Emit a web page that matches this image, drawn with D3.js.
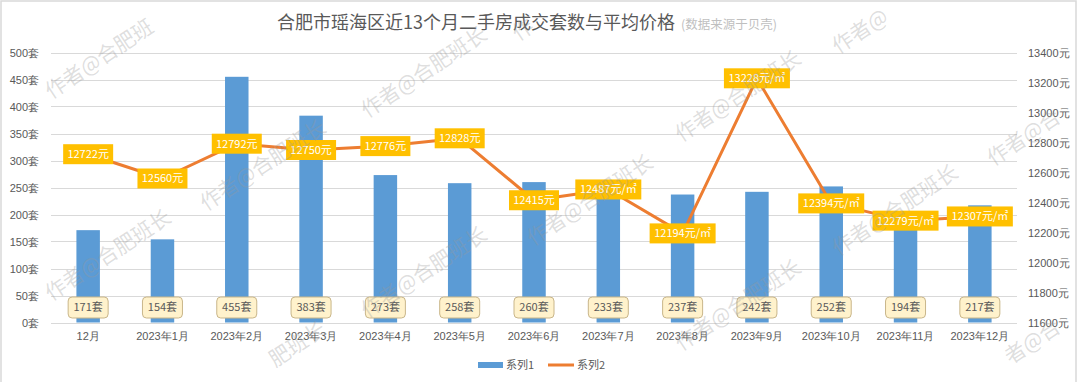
<!DOCTYPE html>
<html><head><meta charset="utf-8">
<script src="https://cdn.jsdelivr.net/npm/d3@7"></script>
<style>
html,body{margin:0;padding:0;background:#fff;}
svg{display:block;font-family:"Noto Sans CJK SC","Noto Sans",sans-serif;}
</style></head>
<body>
<svg id="c" width="1080" height="382"></svg>
<script>
const categories = ["12月","2023年1月","2023年2月","2023年3月","2023年4月","2023年5月","2023年6月","2023年7月","2023年8月","2023年9月","2023年10月","2023年11月","2023年12月"];
const series1 = [171,154,455,383,273,258,260,233,237,242,252,194,217];
const series2 = [12722,12560,12792,12750,12776,12828,12415,12487,12194,13228,12394,12279,12307];
const series2Units = ["元","元","元","元","元","元","元","元/㎡","元/㎡","元/㎡","元/㎡","元/㎡","元/㎡"];
const leftTicks = [0,50,100,150,200,250,300,350,400,450,500];
const rightTicks = [11600,11800,12000,12200,12400,12600,12800,13000,13200,13400];
const seriesNames = ["系列1","系列2"];
const titleText = "合肥市瑶海区近13个月二手房成交套数与平均价格";
const subtitleText = "(数据来源于贝壳)";
const watermarkText = "作者@合肥班长";

const svg = d3.select("#c");
const W = 1080, H = 382;
const plot = {left:51, right:1017, top:52.5, bottom:322.5};

// frame
svg.append("rect").attr("x",1).attr("y",1).attr("width",1075).attr("height",392)
  .attr("fill","#fff").attr("stroke","#d9d9d9").attr("stroke-width",1.5);

const x = d3.scaleBand().domain(categories).range([plot.left, plot.right]).paddingInner(0.684).paddingOuter(0.342);
const yL = d3.scaleLinear().domain([0,500]).range([plot.bottom, plot.top]);
const yR = d3.scaleLinear().domain([11600,13400]).range([plot.bottom, plot.top]);
const cx = d => x(d) + x.bandwidth()/2;

// gridlines
svg.append("g").selectAll("line").data(leftTicks).join("line")
  .attr("x1",plot.left).attr("x2",plot.right)
  .attr("y1",d=>Math.round(yL(d))+0.5).attr("y2",d=>Math.round(yL(d))+0.5)
  .attr("stroke","#d9d9d9").attr("stroke-width",1);

// left axis
const axL = d3.axisLeft(yL).tickValues(leftTicks).tickSize(0).tickPadding(0).tickFormat(d=>d+"套");
const gL = svg.append("g").attr("transform",`translate(${plot.left-12},0)`).call(axL);
gL.select(".domain").remove();
gL.selectAll("text").attr("fill","#595959").style("font-size","11px").style("font-family",null);

// right axis
const axR = d3.axisRight(yR).tickValues(rightTicks).tickSize(0).tickPadding(0).tickFormat(d=>d+"元");
const gR = svg.append("g").attr("transform",`translate(${plot.right+11},0)`).call(axR);
gR.select(".domain").remove();
gR.selectAll("text").attr("fill","#595959").style("font-size","11px").style("font-family",null);

// bottom axis
const axB = d3.axisBottom(x).tickSize(0).tickPadding(0);
const gB = svg.append("g").attr("transform",`translate(0,${plot.bottom+10})`).call(axB);
gB.select(".domain").remove();
gB.selectAll("text").attr("fill","#595959").style("font-size","11px").style("font-family",null).attr("dy","0.71em");

// bars
svg.append("g").selectAll("rect").data(series1).join("rect")
  .attr("x",(d,i)=>x(categories[i])).attr("width",x.bandwidth())
  .attr("y",d=>yL(d)).attr("height",d=>yL(0)-yL(d)).attr("fill","#5B9BD5");

// line
const line = d3.line().x((d,i)=>cx(categories[i])).y(d=>yR(d));
svg.append("path").datum(series2).attr("d",line).attr("fill","none")
  .attr("stroke","#ED7D31").attr("stroke-width",3).attr("stroke-linejoin","round");

// bar value labels
const bl = svg.append("g").selectAll("g").data(series1).join("g")
  .attr("transform",(d,i)=>`translate(${cx(categories[i])},${plot.bottom-15})`);
bl.append("rect").attr("x",-20).attr("y",-10.5).attr("width",40).attr("height",21).attr("rx",4)
  .attr("fill","#FFF2CC").attr("stroke","#C9B68A").attr("stroke-width",1);
bl.append("text").attr("text-anchor","middle").attr("dy","0.36em").attr("fill","#595959")
  .style("font-size","11px").text(d=>d+"套");

// line value labels
const ll = svg.append("g").selectAll("g").data(series2).join("g")
  .attr("transform",(d,i)=>`translate(${cx(categories[i])},${yR(d)})`);
ll.each(function(d,i){
  const g = d3.select(this);
  const t = d + series2Units[i];
  const w = series2Units[i].length > 1 ? 66 : 50;
  g.append("rect").attr("x",-w/2).attr("y",-10).attr("width",w).attr("height",20).attr("fill","#FFC000");
  g.append("text").attr("text-anchor","middle").attr("dy","0.36em").attr("fill","#fff")
    .style("font-size","11px").text(t);
});

// title
const tt = svg.append("text").attr("x",277).attr("y",29).attr("fill","#595959").style("font-size","18px");
tt.append("tspan").text(titleText);
tt.append("tspan").attr("dx",6).attr("fill","#BFBFBF").style("font-size","12.5px").text(subtitleText);

// legend
const lg = svg.append("g");
lg.append("rect").attr("x",478).attr("y",362).attr("width",25).attr("height",6).attr("fill","#5B9BD5");
lg.append("text").attr("x",506).attr("y",365).attr("dy","0.36em").attr("fill","#595959").style("font-size","11px").text(seriesNames[0]);
lg.append("line").attr("x1",548).attr("x2",574).attr("y1",365).attr("y2",365).attr("stroke","#ED7D31").attr("stroke-width",3);
lg.append("text").attr("x",577).attr("y",365).attr("dy","0.36em").attr("fill","#595959").style("font-size","11px").text(seriesNames[1]);

// watermarks: drawn glyph by glyph, keeping only the glyphs that lie fully inside the picture
const wm = [[-50,145],[-50,350],[108,53],[108,255],[263,-37],[263,165],[263,367],[424,72],[424,272],
  [575,-5],[590,200],[590,400],[738,96],[738,305],[895,8],[895,210],[895,410],[1050,120],[1050,330]];
const fs = 21, ang = -33.5 * Math.PI/180;
const chars = Array.from(watermarkText);
const meas = svg.append("text").style("font-size",fs+"px");
const widths = chars.map(c => { meas.text(c); return meas.node().getComputedTextLength(); });
meas.remove();
const total = d3.sum(widths);
const wg = svg.append("g");
const ca = Math.cos(ang), sa = Math.sin(ang);
wm.forEach(([mx,my]) => {
  let off = -total/2;
  chars.forEach((c,k) => {
    const mid = off + widths[k]/2;
    off += widths[k];
    const px = mx + mid*ca, py = my + mid*sa;
    const r = fs*0.9;
    if (px - r < 0 || px + r > W || py - r < 0 || py + r > H) return;
    wg.append("text")
      .attr("transform",`translate(${px},${py}) rotate(-33.5)`)
      .attr("text-anchor","middle").attr("dy","0.35em")
      .attr("fill","#9a9a9a").attr("fill-opacity",0.32)
      .style("font-size",fs+"px").text(c);
  });
});
</script>
</body></html>
